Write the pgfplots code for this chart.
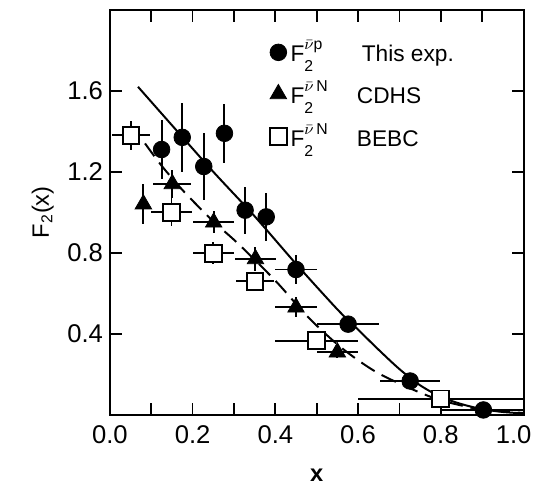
\documentclass[border=0pt]{standalone}
\usepackage{fontspec}
\setmainfont{Liberation Sans}
\usepackage{pgfplots}
\usepackage{pgfplotstable}
\pgfplotsset{compat=1.18}

\newcommand{\Ftwo}[1]{F\rlap{\raisebox{-5bp}{\fontsize{8}{9}\selectfont 2}}\raisebox{6bp}{\fontsize{8}{9}\selectfont #1}}

\pgfplotstableread{
x y ex ey
0.125 1.31 0 0.145
0.175 1.37 0 0.17
0.227 1.226 0 0.165
0.277 1.39 0 0.145
0.327 1.01 0 0.116
0.378 0.977 0 0.12
0.45 0.717 0.05 0.07
0.576 0.447 0.075 0.04
0.726 0.166 0.073 0.0
0.903 0.023 0.1 0.0
}\thisexp

\pgfplotstableread{
x y ex ey
0.081 1.04 0 0.10
0.151 1.14 0.046 0.07
0.251 0.95 0.05 0.055
0.352 0.769 0.05 0.06
0.45 0.53 0.05 0.05
0.55 0.308 0.05 0.03
}\cdhs

\pgfplotstableread{
x y ex ey
0.051 1.38 0.045 0.073
0.149 1.00 0.05 0.07
0.25 0.797 0.05 0.055
0.351 0.659 0.047 0.045
0.50 0.365 0.10 0.03
0.80 0.078 0.20 0.0
}\bebc

\begin{document}
\begin{tikzpicture}
\begin{axis}[
  scale only axis, width=209bp, height=204.5bp,
  xmin=0, xmax=1, ymin=0, ymax=2,
  xtick={0,0.2,0.4,0.6,0.8,1.0},
  xticklabels={0.0,0.2,0.4,0.6,0.8,{\hspace*{-10bp}1.0}},
  minor xtick={0.1,0.3,0.5,0.7,0.9},
  ytick={0.4,0.8,1.2,1.6},
  yticklabels={0.4,0.8,1.2,1.6},
  xtick pos=both, ytick pos=both,
  xticklabel pos=bottom, yticklabel pos=left,
  tick align=inside,
  major tick length=6bp, minor tick length=6bp,
  every tick/.style={black, line width=0.9bp},
  axis line style={line width=1bp},
  /pgf/number format/assume math mode=true,
  ticklabel style={font=\fontsize{13}{15}\selectfont},
  xticklabel style={yshift=-2bp},
  xlabel={\textbf{x}}, ylabel={F$_{\mathrm{2}}$(x)},
  label style={font=\fontsize{12}{14}\selectfont},
  xlabel style={yshift=-6bp},
  clip=false,
  legend style={draw=none, fill=none, at={(axis cs:0.372,1.89)}, anchor=north west,
    font=\fontsize{11.5}{13}\selectfont, row sep=4.5bp},
  legend cell align=left,
  error bars/error bar style={line width=1bp, black},
]
\addlegendimage{only marks, mark=*, mark size=4.2bp, black}
\addlegendentry{\makebox[36bp][l]{\Ftwo{$\bar\nu$p}}This exp.}
\addlegendimage{only marks, mark=triangle*, mark size=4.8bp, black}
\addlegendentry{\makebox[33.5bp][l]{\Ftwo{$\bar\nu$\,N}}CDHS}
\addlegendimage{only marks, mark=square, mark size=4.2bp, black, line width=1bp, fill=white}
\addlegendentry{\makebox[33.5bp][l]{\Ftwo{$\bar\nu$\,N}}BEBC}

\addplot[black, line width=1bp, smooth, forget plot] coordinates {
(0.068,1.62) (0.15,1.43) (0.25,1.20) (0.35,0.98) (0.45,0.745) (0.55,0.52)
(0.60,0.42) (0.65,0.32) (0.70,0.225) (0.75,0.145) (0.80,0.088) (0.85,0.052)
(0.90,0.027) (0.95,0.013) (1.0,0.006)};
\addplot[black, line width=1bp, smooth, dash pattern=on 8bp off 4bp, forget plot] coordinates {
(0.085,1.34) (0.125,1.23) (0.18,1.10) (0.25,0.955) (0.31,0.845) (0.40,0.662)
(0.48,0.48) (0.56,0.33) (0.64,0.215) (0.72,0.135) (0.79,0.077) (0.85,0.045)
(0.90,0.025) (1.0,0.008)};

\addplot[only marks, mark=*, mark size=4.2bp, black, forget plot,
  error bars/.cd, x dir=both, x explicit, y dir=both, y explicit, error mark=none]
  table[x=x, y=y, x error=ex, y error=ey] {\thisexp};
\addplot[only marks, mark=triangle*, mark size=4.8bp, black, forget plot,
  error bars/.cd, x dir=both, x explicit, y dir=both, y explicit, error mark=none]
  table[x=x, y=y, x error=ex, y error=ey] {\cdhs};
\addplot[only marks, mark=square*, mark size=4.2bp, black, mark options={fill=white, line width=1bp}, forget plot,
  error bars/.cd, x dir=both, x explicit, y dir=both, y explicit, error mark=none]
  table[x=x, y=y, x error=ex, y error=ey] {\bebc};

\path (rel axis cs:-0.2656,-0.1663) rectangle (rel axis cs:1.0215,1.0244);
\end{axis}
\end{tikzpicture}
\end{document}
